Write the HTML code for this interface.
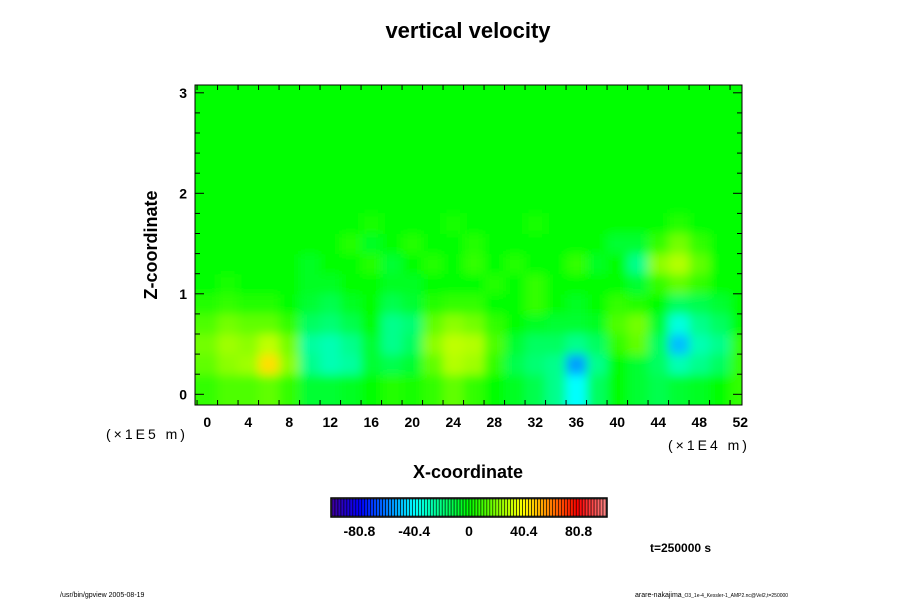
<!DOCTYPE html>
<html><head><meta charset="utf-8"><style>
body{margin:0;background:#fff;}
svg text{font-family:"Liberation Sans",sans-serif;}
</style></head><body>
<svg id="chart" width="900" height="600" viewBox="0 0 900 600" xmlns="http://www.w3.org/2000/svg">
<defs>
<clipPath id="pc"><rect x="195" y="85" width="547" height="320"/></clipPath>
<filter id="bl" x="-10%" y="-10%" width="120%" height="120%"><feGaussianBlur stdDeviation="5"/></filter>
</defs>
<text x="468" y="38" font-size="22" font-weight="bold" text-anchor="middle">vertical velocity</text>
<rect x="195" y="85" width="547" height="320" fill="#00ff00"/>
<g id="heat" clip-path="url(#pc)"><g id="cells" filter="url(#bl)"></g></g>
<rect x="195" y="85" width="547" height="320" fill="none" stroke="#000" stroke-width="1"/>
<g id="ticks"></g>
<text transform="translate(157,245) rotate(-90)" font-size="18" font-weight="bold" text-anchor="middle">Z-coordinate</text>
<text x="468" y="478" font-size="18" font-weight="bold" text-anchor="middle">X-coordinate</text>
<text x="106" y="439" font-size="14" letter-spacing="3">(×1E5 m)</text>
<text x="668" y="450" font-size="14" letter-spacing="3">(×1E4 m)</text>
<g id="cbar"></g>
<text x="650" y="552" font-size="12" font-weight="bold">t=250000 s</text>
<text x="60" y="597" font-size="7">/usr/bin/gpview 2005-08-19</text>
<text x="635" y="597" font-size="7">arare-nakajima<tspan font-size="5">_O3_1e-4_Kessler-1_AMP2.nc@Vel2,t=250000</tspan></text>
</svg>
<script>
const xCenters=[0,2,4,6,8,10,12,14,16,18,20,22,24,26,28,30,32,34,36,38,40,42,44,46,48,50,52];
const zCenters=[0.1,0.3,0.5,0.7,0.9,1.1,1.3,1.5,1.7];
const row01=[8,12,12,15,8,-8,-8,-5,0,5,3,8,15,8,0,-5,-12,-22,-40,-15,0,-8,-12,-8,-5,0,8];
const row03=[15,22,25,45,22,-22,-28,-25,-8,-12,-8,15,28,25,8,-12,-18,-22,-55,-22,0,-8,-15,-28,-22,-15,8];
const row05=[18,25,22,30,18,-25,-28,-22,-8,-22,-15,22,30,28,12,-8,-15,-15,-22,-15,8,15,-15,-50,-28,-22,8];
const row07=[12,18,15,15,8,-15,-18,-12,0,-22,-18,15,22,18,8,0,-5,-8,-8,-5,12,18,-8,-35,-22,-15,0];
const row09=[5,8,5,5,0,-8,-12,-5,0,-12,-8,5,8,8,0,0,8,0,-5,0,8,5,0,-15,-12,-8,0];
const row11=[0,3,0,0,0,-5,-5,0,0,-5,-5,0,0,0,5,0,8,0,0,0,0,-8,8,15,8,0,0];
const row13=[0,0,0,0,0,-5,0,0,5,-8,0,5,0,8,0,5,0,0,8,-5,0,-22,22,28,15,0,0];
const row15=[0,0,0,0,0,0,0,5,-5,0,5,0,0,5,0,0,0,0,0,0,-8,-8,8,18,8,0,0];
const row17=[0,0,0,0,0,0,0,0,3,0,0,0,3,0,0,0,3,0,0,0,0,0,0,5,0,0,0];
const rows=[row01,row03,row05,row07,row09,row11,row13,row15,row17];
const xTicks=[0,4,8,12,16,20,24,28,32,36,40,44,48,52];
const zTicks=[0,1,2,3];
const cbarLabels=[-80.8,-40.4,0,40.4,80.8];
const cmin=-101,cmax=101;

const NS="http://www.w3.org/2000/svg";
const X=v=>207.3+v*10.25, Z=v=>394.3-v*100.5;
function col(v){
  const st=[[-101,[64,0,160]],[-80,[0,0,255]],[-40,[0,255,255]],[0,[0,255,0]],[40,[255,255,0]],[80,[255,0,0]],[101,[255,136,136]]];
  v=Math.max(-101,Math.min(101,v));
  for(let i=0;i<st.length-1;i++){const[a,ca]=st[i],[b,cb]=st[i+1];
    if(v<=b){const t=(v-a)/(b-a);return`rgb(${ca.map((c,j)=>Math.round(c+(cb[j]-c)*t)).join(',')})`;}}
  return'rgb(255,136,136)';
}
function mk(tag,at,parent){const e=document.createElementNS(NS,tag);for(const k in at)e.setAttribute(k,at[k]);parent.appendChild(e);return e;}
const cells=document.getElementById('cells');
rows.forEach((r,ri)=>r.forEach((v,ci)=>{
  const e=mk('rect',{x:X(xCenters[ci]-1)-(ci==0?20:0),y:Z(zCenters[ri]+0.1)-0.5,width:X(2)-X(0)+(ci==0||ci==26?20:0)+0.5,height:Z(0)-Z(0.2)+(ri==0?30:0)+1,fill:col(v)},cells);
  
  
}));
const tk=document.getElementById('ticks');
for(let v=-1;v<=52;v+=2){const maj=v%4==0;const x=X(v);if(x<195)continue;
  mk('line',{x1:x,x2:x,y1:405,y2:405-(maj?9:5),stroke:'#000'},tk);
  mk('line',{x1:x,x2:x,y1:85,y2:85+(maj?9:5),stroke:'#000'},tk);}
for(let i=0;i<=30;i+=2){const v=i/10;const maj=i%10==0;const y=Z(v);
  mk('line',{x1:195,x2:195+(maj?9:5),y1:y,y2:y,stroke:'#000'},tk);
  mk('line',{x1:742,x2:742-(maj?9:5),y1:y,y2:y,stroke:'#000'},tk);}
xTicks.forEach(v=>{const t=mk('text',{x:X(v),y:427,'font-size':14,'font-weight':'bold','text-anchor':'middle'},tk);t.textContent=v;
  
  });
zTicks.forEach(v=>{const t=mk('text',{x:187,y:Z(v)+5,'font-size':14,'font-weight':'bold','text-anchor':'end'},tk);t.textContent=v;
  
  });
const cb=document.getElementById('cbar');
const n=92,x0=332,x1=606,w=(x1-x0)/n;
for(let i=0;i<n;i++){const v=cmin+(i+0.5)*(cmax-cmin)/n;
  const e=mk('rect',{x:x0+i*w,y:499,width:w,height:17,fill:col(v),stroke:'#000','stroke-width':0.6},cb);
  
  }
mk('rect',{x:331,y:498,width:276,height:19,fill:'none',stroke:'#000','stroke-width':1.5},cb);
const CX=v=>x0+(v-cmin)/(cmax-cmin)*(x1-x0);
cbarLabels.forEach(v=>{const t=mk('text',{x:CX(v),y:536,'font-size':14,'font-weight':'bold','text-anchor':'middle'},cb);t.textContent=v;
  
  });
</script>
</body></html>
